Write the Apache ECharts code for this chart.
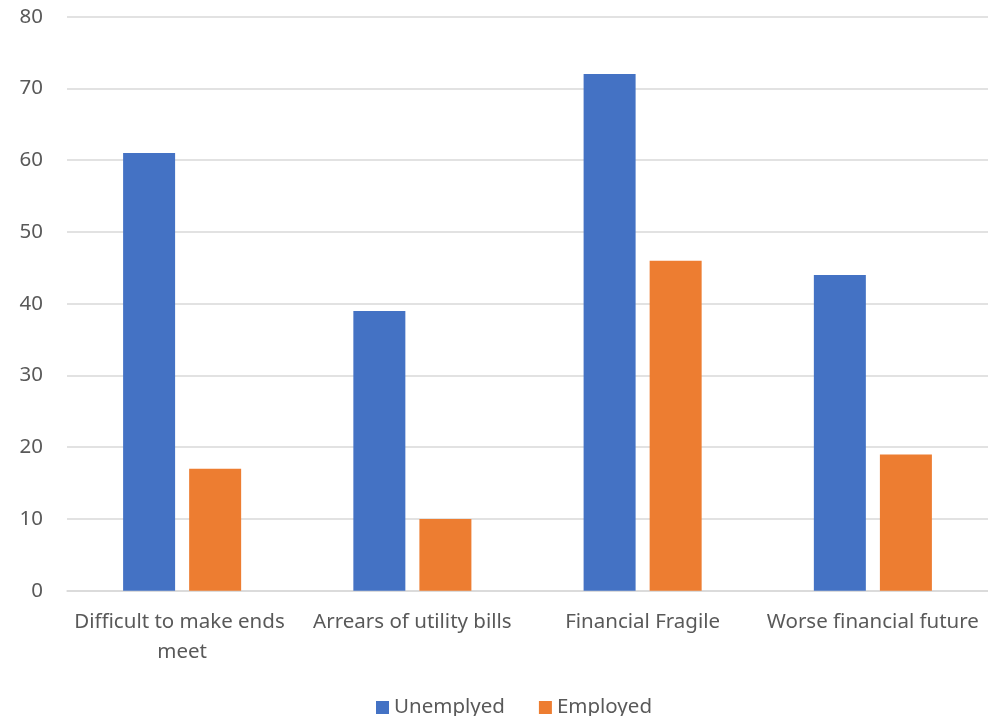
<!DOCTYPE html>
<html><head><meta charset="utf-8">
<script src="https://cdn.jsdelivr.net/npm/echarts@6/dist/echarts.min.js"></script>
<style>html,body{margin:0;padding:0;background:#fff}#c{width:988px;height:716px}</style>
</head><body><div id="c"></div>
<script>
var categories = ["Difficult to make ends meet", "Arrears of utility bills", "Financial Fragile", "Worse financial future"];
var unemployed = [61, 39, 72, 44];
var employed = [17, 10, 46, 19];
var yTicks = {min: 0, max: 80, interval: 10};
var FONT = "Noto Sans";
var chart = echarts.init(document.getElementById('c'), null, {renderer: 'canvas'});
chart.setOption({
  animation: false,
  textStyle: {fontFamily: FONT},
  grid: {left: 67, right: 0, top: 16.7, bottom: 125.3, containLabel: false, outerBoundsMode: 'none'},
  legend: {
    left: 371, top: 692, itemWidth: 13, itemHeight: 13, itemGap: 34, icon: 'rect',
    textStyle: {fontFamily: FONT, fontSize: 20.5, color: '#595959'},
    data: ['Unemplyed', 'Employed']
  },
  xAxis: {
    type: 'category', data: categories,
    axisLine: {lineStyle: {color: '#D9D9D9', width: 1.5}},
    axisTick: {show: false},
    axisLabel: {fontFamily: FONT, fontSize: 20.5, color: '#595959', margin: 16, lineHeight: 30, width: 225, overflow: 'break', interval: 0}
  },
  yAxis: {
    type: 'value', min: yTicks.min, max: yTicks.max, interval: yTicks.interval,
    axisLine: {show: false}, axisTick: {show: false},
    splitLine: {lineStyle: {color: '#D9D9D9', width: 1.5}},
    axisLabel: {fontFamily: FONT, fontSize: 20.5, color: '#595959', margin: 24}
  },
  series: [
    {name: 'Unemplyed', type: 'bar', data: unemployed, barWidth: 52, barGap: '27%', itemStyle: {color: '#4472C4'}},
    {name: 'Employed', type: 'bar', data: employed, barWidth: 52, itemStyle: {color: '#ED7D31'}}
  ]
});
</script></body></html>
